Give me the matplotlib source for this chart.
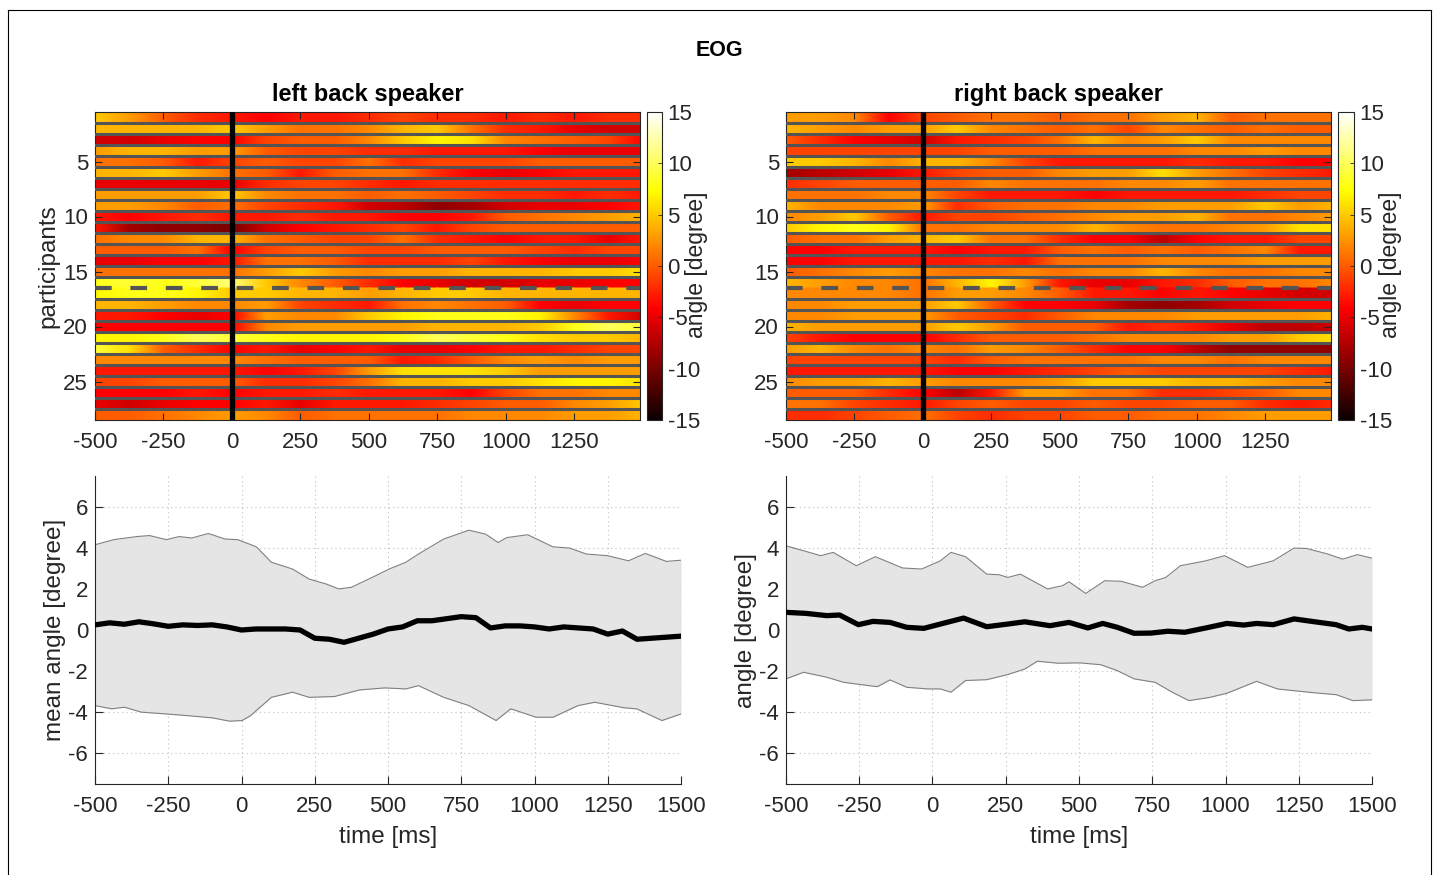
import numpy as np
import matplotlib
matplotlib.use("Agg")
import matplotlib.pyplot as plt
from matplotlib.lines import Line2D

plt.rcParams['font.family'] = ['Liberation Sans', 'DejaVu Sans']
plt.rcParams['axes.unicode_minus'] = False

# ---------------- data ----------------
hm_times = [-500, -375, -250, -125, 0, 125, 250, 375, 500, 625, 750, 875, 1000, 1125, 1250, 1375, 1500]
participants = list(range(1, 29))

left_hm = [
    [5, 3, 0, -2, -3, -4, -3, -3, -2, -1, -2, -2, -3, -2, -3, -2, -2],
    [4, 4, 4, 4, 5, 3, 1, 1, 2, 4, 5, 1, -2, -3, -5, -6, -6],
    [-6, -6, -5, -4, -4, -1, 0, 0, 2, 5, 7, 6, 2, 1, 0, -1, -4],
    [3, 4, 4, 3, 3, 0, -1, -1, -2, -2, -3, -3, -3, -4, -5, -5, -5],
    [1, 1, 0, -3, -1, 0, -1, -1, 1, -2, -1, -1, -1, 0, 0, 0, 0],
    [4, 4, 5, 3, 1, 0, -3, 0, 1, 1, -2, -4, -5, -4, -3, -3, -3],
    [-5, -5, -5, -5, -5, -2, -1, -1, -2, -3, -2, -2, -2, -2, -2, -2, -2],
    [3, 3, 3, 3, 5, 2, 1, 1, 0, 1, 0, -1, -2, -2, -3, -2, -3],
    [3, 3, 2, 0, 1, -1, -2, -3, -6, -7, -9, -8, -6, -5, -5, -4, -3],
    [-3, -4, -3, -2, -3, -3, -2, -3, -3, -4, -4, -3, 0, 1, 2, 3, 4],
    [-3, -8, -9, -9, -10, -6, -4, -3, -2, -1, -3, -1, 0, 0, 0, 0, 0],
    [1, 2, 2, 4, 4, 1, 0, -1, -1, 1, -2, -3, -4, -3, -3, -5, -3],
    [0, 0, 0, 1, -4, -1, 0, 0, -1, -1, 0, 0, 0, -1, -2, -1, -1],
    [-5, -5, -4, -4, -3, 1, 1, 0, -2, -2, -2, -1, -3, -4, -5, -5, -4],
    [1, 1, 1, 1, 1, 3, 5, 3, 2, 3, 3, 4, 4, 4, 5, 5, 6],
    [8, 9, 8, 9, 11, 5, 2, 0, -2, -4, -5, -6, -6, -5, -5, -4, -4],
    [7, 8, 8, 7, 5, 5, 4, 4, 3, 4, 5, 5, 4, 4, 4, 4, 4],
    [4, 4, 3, 2, 2, 3, -1, -2, -3, 1, 2, 1, 0, -4, -5, -4, -4],
    [-3, -3, -4, -5, -4, 3, 2, 2, 5, 7, 8, 8, 8, 7, 2, -3, -6],
    [-4, -4, -4, -4, -4, 2, 3, 3, 3, 3, 4, 4, 4, 5, 8, 10, 9],
    [7, 7, 8, 10, 9, 8, 7, 7, 7, 8, 10, 9, 8, 6, 5, 5, 4],
    [9, 6, 0, -2, -4, -3, -5, -4, -3, -5, -5, -4, -3, -3, -2, -1, -1],
    [2, 2, 2, 2, 2, 1, 0, 0, 0, -3, -2, 0, 2, 3, 2, 3, 3],
    [-3, -3, -3, -3, -3, -4, -3, -1, 3, 6, 6, 6, 5, 3, 3, 3, 3],
    [-1, -1, 0, 0, 0, -2, -2, -1, 1, 4, 4, 5, 5, 6, 7, 7, 6],
    [-4, -4, -4, -3, -4, -3, -3, -2, -3, -3, -3, -4, -1, 1, 1, 2, 2],
    [-5, -6, -5, -4, -4, -3, -5, -3, -3, -3, -2, -1, 0, 0, 2, 3, 5],
    [0, 0, 1, 2, 3, 2, 0, 1, 1, 1, 1, 2, 2, 2, 3, 3, 4],
]

right_hm = [
    [3, 3, 2, -4, -1, 0, 1, 1, 0, 1, 1, 3, 4, 0, 1, 1, 1],
    [4, 3, 2, 3, 3, 5, 2, 1, 0, 1, -1, 2, 1, 0, 1, 0, 0],
    [0, -2, -4, -5, -6, -3, -2, -1, 1, 4, 2, 3, 5, 2, 2, 2, 2],
    [-1, -1, -1, -1, -1, -1, 0, 0, 0, 1, 1, 1, 2, 2, 3, 2, 2],
    [5, 5, 4, 2, 4, 4, 2, -1, -3, -3, -3, -3, -2, -3, -3, -4, -4],
    [-8, -7, -6, -5, -3, -1, 0, 0, 2, 3, 3, 6, 3, 1, -1, -2, -3],
    [-2, -1, 0, 0, 0, 0, 2, 1, 1, 1, 2, 2, 3, 1, 1, 1, 1],
    [1, 1, 1, 2, 2, -1, -3, -3, -3, -4, -3, -3, -3, -3, -2, -1, -1],
    [4, 2, 2, 2, 3, -2, 0, 1, 1, 2, 2, 3, 3, 3, 5, 3, 4],
    [2, 3, 5, 0, -3, -1, -1, 0, 1, 2, 3, 3, 4, 1, 1, 2, 3],
    [5, 7, 8, 7, 1, 1, 2, 2, 2, 4, 2, 1, 1, 2, 3, 6, 6],
    [0, 1, 1, 3, 4, 5, 1, 1, -2, -4, -4, -7, -4, -3, -3, -1, -1],
    [-4, -4, -3, -3, -3, -4, -3, -3, 0, 1, 0, 1, 0, 1, 2, -3, -3],
    [-4, -4, -3, -3, -3, -3, -2, -3, 1, 1, 1, 2, 2, 2, 3, 3, 3],
    [0, 1, 2, 3, 2, 1, 1, 2, 1, 2, 2, 4, 2, 1, 1, 2, 2],
    [4, 3, 2, 2, 1, 4, 7, 3, -3, -5, -5, -3, -2, 0, 1, 1, 2],
    [2, 2, 2, 2, 1, 3, 3, 2, 0, -3, -3, -4, -3, -4, -5, -6, -6],
    [2, 2, 3, 3, 3, 5, 0, -4, -4, -5, -8, -9, -8, -6, -5, -4, -4],
    [2, 2, 3, 3, 3, 0, -1, -2, 0, 2, 2, 2, 3, 3, 3, 3, 4],
    [4, 3, 3, 3, 3, 5, 3, 0, 0, 0, -3, -2, -3, -5, -7, -7, -6],
    [-1, -3, -4, -4, -4, -2, 0, 0, 0, 1, 2, 2, 2, 3, 3, 5, 6],
    [3, 4, 2, 1, 2, 1, 3, 2, 0, -2, -4, -4, -7, -9, -9, -9, -9],
    [-1, -1, -1, -1, -1, -2, 0, 1, 1, 1, 1, 2, 2, 1, 2, 2, 2],
    [-3, -3, -3, -3, -3, -4, -4, -3, -2, -1, 0, -1, -1, -1, -1, -2, -3],
    [2, 3, 3, 4, 3, 2, 2, 2, 3, 5, 5, 5, 4, 4, 3, 2, 2],
    [0, 0, 0, -2, -4, -7, -3, 3, 3, 1, 1, -2, -2, -1, 0, 2, 2],
    [1, 1, -1, -2, -3, -1, 0, -1, -1, 0, -1, -1, 0, 0, -2, -3, -2],
    [-2, -2, -1, 0, 1, -1, -2, -1, -1, 0, 0, 1, 1, 2, 3, 3, 3],
]

# bottom-left: mean and bounds
lm_t = [-500, -450, -400, -350, -300, -250, -200, -150, -100, -50, 0, 50, 100, 150, 200, 250, 300,
        350, 400, 450, 500, 550, 600, 650, 700, 750, 800, 850, 900, 950, 1000, 1050, 1100, 1150,
        1200, 1250, 1300, 1350, 1400, 1450, 1500]
lm_v = [0.25, 0.35, 0.28, 0.40, 0.30, 0.18, 0.25, 0.22, 0.25, 0.15, 0.0, 0.05, 0.05, 0.05, 0.0, -0.40,
        -0.45, -0.60, -0.40, -0.20, 0.05, 0.15, 0.45, 0.45, 0.55, 0.65, 0.60, 0.10, 0.20, 0.20, 0.15,
        0.05, 0.15, 0.10, 0.05, -0.20, -0.05, -0.45, -0.40, -0.35, -0.30]
lu_t = [-500, -436, -357, -314, -256, -213, -170, -113, -56, -13, 51, 102, 174, 231, 289, 332, 375,
        446, 504, 561, 604, 690, 776, 833, 876, 905, 977, 1063, 1120, 1177, 1249, 1321, 1378, 1450, 1500]
lu_v = [4.15, 4.40, 4.55, 4.60, 4.40, 4.55, 4.48, 4.70, 4.43, 4.40, 4.05, 3.30, 2.97, 2.48, 2.24, 2.00,
        2.08, 2.56, 2.97, 3.30, 3.70, 4.43, 4.86, 4.67, 4.26, 4.50, 4.64, 4.05, 3.99, 3.70, 3.62, 3.37,
        3.73, 3.34, 3.40]
ll_t = [-500, -443, -400, -342, -256, -185, -99, -41, 2, 31, 102, 174, 231, 317, 403, 489, 561, 604,
        690, 776, 869, 919, 1006, 1063, 1149, 1206, 1306, 1349, 1435, 1500]
ll_v = [-3.68, -3.84, -3.76, -4.00, -4.09, -4.17, -4.28, -4.44, -4.41, -4.17, -3.28, -3.03, -3.28,
        -3.24, -2.92, -2.82, -2.87, -2.71, -3.28, -3.68, -4.41, -3.84, -4.25, -4.25, -3.68, -3.52,
        -3.79, -3.84, -4.41, -4.09]

# bottom-right: mean and bounds
rm_t = [-500, -432, -361, -317, -253, -203, -145, -88, -30, 27, 106, 185, 257, 315, 401, 466, 530,
        581, 631, 688, 746, 803, 861, 933, 1005, 1062, 1106, 1163, 1234, 1320, 1377, 1421, 1467, 1500]
rm_v = [0.86, 0.81, 0.70, 0.73, 0.26, 0.42, 0.37, 0.13, 0.08, 0.29, 0.58, 0.16, 0.29, 0.40, 0.21,
        0.37, 0.10, 0.32, 0.13, -0.16, -0.15, -0.06, -0.11, 0.10, 0.32, 0.24, 0.32, 0.26, 0.54, 0.37,
        0.26, 0.05, 0.13, 0.05]
ru_t = [-500, -440, -382, -339, -260, -195, -102, -37, 27, 63, 113, 185, 228, 257, 300, 393, 444, 466,
        523, 588, 645, 717, 760, 796, 846, 933, 997, 1076, 1163, 1234, 1277, 1349, 1400, 1450, 1500]
ru_v = [4.10, 3.86, 3.62, 3.78, 3.13, 3.57, 3.02, 2.97, 3.37, 3.78, 3.57, 2.72, 2.69, 2.56, 2.72, 2.00,
        2.16, 2.35, 1.78, 2.40, 2.37, 2.08, 2.40, 2.56, 3.13, 3.37, 3.62, 3.05, 3.37, 3.99, 3.97, 3.70,
        3.45, 3.67, 3.50]
rl_t = [-500, -440, -361, -303, -217, -188, -145, -88, -16, 27, 63, 113, 185, 257, 315, 358, 430, 502,
        574, 631, 688, 760, 818, 875, 947, 1005, 1106, 1177, 1249, 1320, 1378, 1435, 1500]
rl_v = [-2.38, -2.06, -2.30, -2.55, -2.71, -2.76, -2.43, -2.79, -2.87, -2.87, -3.03, -2.46, -2.42,
        -2.17, -1.90, -1.52, -1.62, -1.60, -1.69, -1.98, -2.38, -2.55, -3.03, -3.44, -3.28, -3.08,
        -2.50, -2.87, -2.98, -3.08, -3.15, -3.44, -3.40]

hm_xticks = [-500, -250, 0, 250, 500, 750, 1000, 1250]
line_xticks = [-500, -250, 0, 250, 500, 750, 1000, 1250, 1500]
line_yticks = [-6, -4, -2, 0, 2, 4, 6]
p_yticks = [5, 10, 15, 20, 25]
cb_ticks = [-15, -10, -5, 0, 5, 10, 15]

# ---------------- figure ----------------
W, H = 1436, 875
fig = plt.figure(figsize=(W / 100, H / 100), dpi=100)
TXT = (0.15, 0.15, 0.15)
FS = 16      # tick labels
LFS = 17.5   # axis labels


def frac(x0, y0, x1, y1):
    return [x0 / W, 1 - y1 / H, (x1 - x0) / W, (y1 - y0) / H]


def heatmap(ax, cax, data, label_x):
    arr = np.array(data, dtype=float)
    t = np.array(hm_times, dtype=float)
    mesh = None
    for i, p in enumerate(participants):
        X = np.vstack([t, t])
        Y = np.array([[p - 0.5] * len(t), [p + 0.5] * len(t)])
        C = np.vstack([arr[i], arr[i]])
        mesh = ax.pcolormesh(X, Y, C, shading='gouraud', cmap='hot', vmin=-15, vmax=15)
    ax.set_xlim(-500, 1490)
    ax.set_ylim(28.5, 0.5)
    sep_col = (0.33, 0.33, 0.33)
    for p in participants[:-1]:
        if p == 16:
            ax.axhline(p + 0.5, color=sep_col, lw=3.0, ls=(0, (4, 4.5)), zorder=3)
        else:
            ax.axhline(p + 0.5, color=sep_col, lw=2.2, zorder=3)
    ax.axvline(0, color='black', lw=3.8, zorder=4)
    ax.set_xticks(hm_xticks)
    ax.set_yticks(p_yticks)
    ax.tick_params(direction='in', top=True, right=True, labelsize=FS, colors=TXT, length=5,
                   width=0.8)
    ax.tick_params(axis='x', pad=9)
    ax.tick_params(axis='y', pad=5)
    for s in ax.spines.values():
        s.set_color(TXT)
        s.set_linewidth(0.8)
    cb = fig.colorbar(mesh, cax=cax, ticks=cb_ticks)
    cb.outline.set_edgecolor(TXT)
    cb.outline.set_linewidth(0.8)
    cax.tick_params(direction='in', labelsize=FS, colors=TXT, length=3, width=0.6, pad=4)
    fig.text(label_x / W, 1 - 265 / H, 'angle [degree]', rotation=90, ha='center', va='center',
             fontsize=16.5, color=TXT)


def lineplot(ax, mt, mv, ut, uv, lt, lv, ylabel):
    tt = np.union1d(np.union1d(ut, lt), mt)
    up = np.interp(tt, ut, uv)
    lo = np.interp(tt, lt, lv)
    ax.fill_between(tt, lo, up, color=(0.898, 0.898, 0.898), lw=0, zorder=1)
    ax.plot(ut, uv, color=(0.5, 0.5, 0.5), lw=0.8, zorder=2)
    ax.plot(lt, lv, color=(0.5, 0.5, 0.5), lw=0.8, zorder=2)
    ax.plot([ut[-1], lt[-1]], [uv[-1], lv[-1]], color=(0.6, 0.6, 0.6), lw=0.8, ls=(0, (3, 2)), zorder=2)
    ax.plot(mt, mv, color='black', lw=3.8, zorder=3, solid_capstyle='round', solid_joinstyle='round')
    ax.set_xlim(-500, 1500)
    ax.set_ylim(-7.5, 7.5)
    ax.set_xticks(line_xticks)
    ax.set_yticks(line_yticks)
    ax.grid(True, ls=(0, (1, 3)), color=(0.75, 0.75, 0.75), lw=0.8)
    ax.set_axisbelow(True)
    for k in ('top', 'right'):
        ax.spines[k].set_visible(False)
    for k in ('left', 'bottom'):
        ax.spines[k].set_color(TXT)
        ax.spines[k].set_linewidth(0.8)
    ax.tick_params(direction='in', labelsize=FS, colors=TXT, length=6, width=0.8)
    ax.tick_params(axis='x', pad=9)
    ax.tick_params(axis='y', pad=5)
    ax.set_xlabel('time [ms]', fontsize=LFS, color=TXT, labelpad=6)
    ax.set_ylabel(ylabel, fontsize=LFS, color=TXT, labelpad=2)


ax1 = fig.add_axes(frac(95, 112, 640, 420))
cax1 = fig.add_axes(frac(647, 112, 662, 420))
ax2 = fig.add_axes(frac(786, 112, 1331, 420))
cax2 = fig.add_axes(frac(1338, 112, 1354, 420))
ax3 = fig.add_axes(frac(95, 476, 681, 784))
ax4 = fig.add_axes(frac(786, 476, 1372, 784))

heatmap(ax1, cax1, left_hm, 697)
heatmap(ax2, cax2, right_hm, 1391)
ax1.set_ylabel('participants', fontsize=LFS, color=TXT, labelpad=3)

lineplot(ax3, lm_t, lm_v, lu_t, lu_v, ll_t, ll_v, 'mean angle [degree]')
lineplot(ax4, rm_t, rm_v, ru_t, ru_v, rl_t, rl_v, 'angle [degree]')

fig.text(719 / W, 1 - 51 / H, 'EOG', ha='center', va='center', fontsize=15.5, fontweight='bold')
fig.text(368 / W, 1 - 94 / H, 'left back speaker', ha='center', va='center', fontsize=17,
         fontweight='bold')
fig.text(1058 / W, 1 - 94 / H, 'right back speaker', ha='center', va='center', fontsize=17,
         fontweight='bold')

# outer frame
x0, x1, yt = 8 / W, 1431 / W, 1 - 10 / H
for xs, ys in (([x0, x0], [0, yt]), ([x0, x1], [yt, yt]), ([x1, x1], [yt, 0])):
    fig.add_artist(Line2D(xs, ys, color='black', lw=0.8, transform=fig.transFigure))

fig.savefig('out.png', dpi=100)
